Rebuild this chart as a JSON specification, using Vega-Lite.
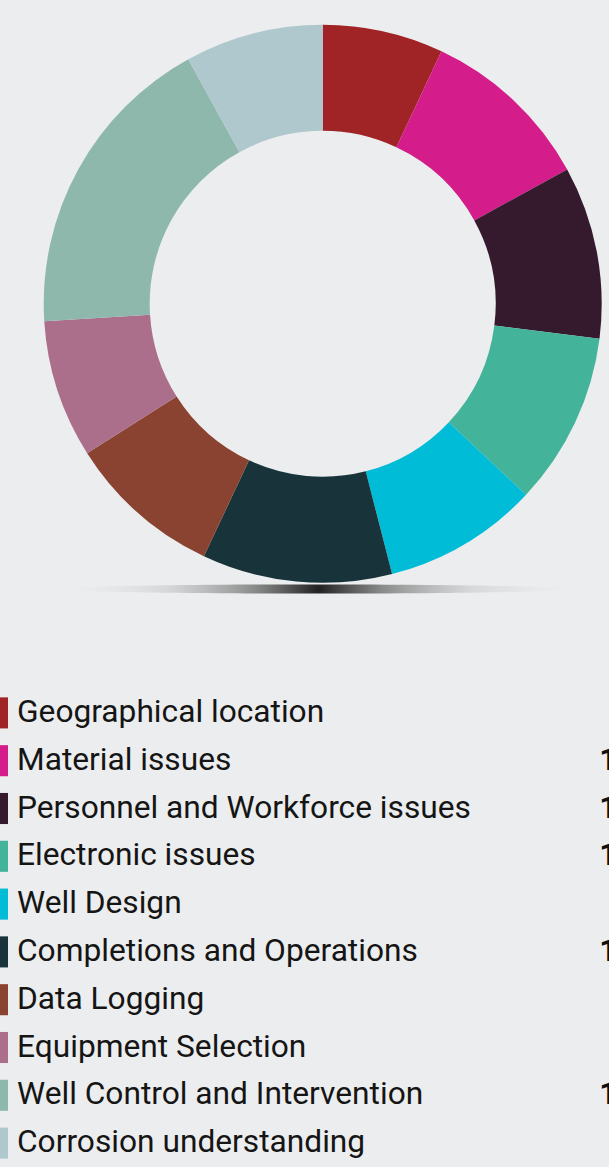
{
  "$schema": "https://vega.github.io/schema/vega-lite/v6.json",
  "background": "#ecedee",
  "padding": 0,
  "spacing": 0,
  "config": {"view": {"stroke": null}, "font": "Roboto"},
  "datasets": {
    "issues": [
      {"rank": 1, "category": "Geographical location", "share": 0.07},
      {"rank": 2, "category": "Material issues", "share": 0.10},
      {"rank": 3, "category": "Personnel and Workforce issues", "share": 0.10},
      {"rank": 4, "category": "Electronic issues", "share": 0.10},
      {"rank": 5, "category": "Well Design", "share": 0.09},
      {"rank": 6, "category": "Completions and Operations", "share": 0.11},
      {"rank": 7, "category": "Data Logging", "share": 0.09},
      {"rank": 8, "category": "Equipment Selection", "share": 0.08},
      {"rank": 9, "category": "Well Control and Intervention", "share": 0.18},
      {"rank": 10, "category": "Corrosion understanding", "share": 0.08}
    ]
  },
  "vconcat": [
    {
      "width": 609,
      "height": 689,
      "data": {"name": "issues"},
      "layer": [
        {
          "mark": {
            "type": "point",
            "shape": "M-1,0 A1,0.018 0 1,0 1,0 A1,0.018 0 1,0 -1,0 Z",
            "size": 260100,
            "filled": true,
            "opacity": 1,
            "strokeWidth": 0,
            "xOffset": 14,
            "yOffset": 244.5,
            "color": {
              "gradient": "radial",
              "stops": [
                {"offset": 0, "color": "rgba(10,10,10,0.9)"},
                {"offset": 0.25, "color": "rgba(40,40,40,0.5)"},
                {"offset": 0.6, "color": "rgba(120,120,120,0.18)"},
                {"offset": 1, "color": "rgba(200,200,200,0)"}
              ]
            }
          },
          "transform": [{"filter": "datum.rank == 1"}],
          "encoding": {}
        },
        {
          "mark": {"type": "arc", "outerRadius": 279, "innerRadius": 173, "xOffset": 18.2, "yOffset": -40.7},
          "encoding": {
            "theta": {"field": "share", "type": "quantitative", "stack": true},
            "order": {"field": "rank", "type": "quantitative"},
            "color": {
              "field": "category",
              "type": "nominal",
              "legend": null,
              "sort": null,
              "scale": {
                "domain": ["Geographical location", "Material issues", "Personnel and Workforce issues", "Electronic issues", "Well Design", "Completions and Operations", "Data Logging", "Equipment Selection", "Well Control and Intervention", "Corrosion understanding"],
                "range": ["#a02325", "#d41c8a", "#351a2e", "#43b39a", "#00bcd6", "#18343a", "#8a4331", "#ab6f8c", "#8fb8ad", "#afc8cd"]
              }
            }
          }
        }
      ]
    },
    {
      "width": 609,
      "height": 478,
      "data": {"name": "issues"},
      "encoding": {
        "y": {"field": "category", "type": "nominal", "sort": null, "axis": null,
              "scale": {"type": "band", "paddingInner": 0.35, "paddingOuter": 0.175}}
      },
      "layer": [
        {
          "mark": {"type": "rect"},
          "encoding": {
            "x": {"value": 0},
            "x2": {"value": 8},
            "color": {"field": "category", "type": "nominal", "legend": null, "sort": null}
          }
        },
        {
          "mark": {"type": "text", "align": "left", "x": 17, "dy": -1, "fontSize": 31.7, "font": "Roboto", "color": "#151515"},
          "encoding": {"text": {"field": "category", "type": "nominal"}}
        },
        {
          "mark": {"type": "text", "align": "right", "x": 659, "dy": -1, "fontSize": 31.7, "fontWeight": "bold", "font": "Roboto", "color": "#111111", "clip": true},
          "encoding": {"text": {"field": "share", "type": "quantitative", "format": ".0%"}}
        }
      ]
    }
  ]
}
